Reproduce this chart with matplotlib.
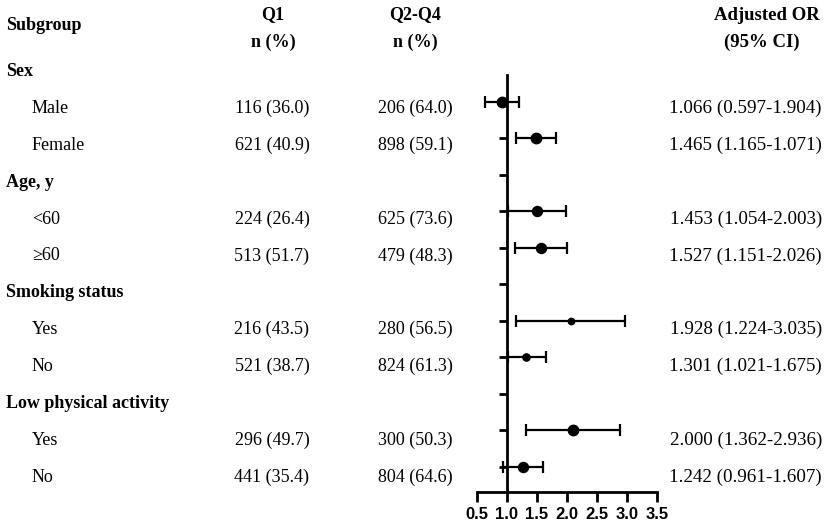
import matplotlib
matplotlib.use('Agg')
import matplotlib.pyplot as plt
import numpy as np

# rows of the table, top to bottom
subgroups = ['Sex', 'Male', 'Female', 'Age, y', '<60', '\u226560',
             'Smoking status', 'Yes', 'No', 'Low physical activity', 'Yes', 'No']
is_header = [True, False, False, True, False, False, True, False, False, True, False, False]
q1_text = ['', '116 (36.0)', '621 (40.9)', '', '224 (26.4)', '513 (51.7)',
           '', '216 (43.5)', '521 (38.7)', '', '296 (49.7)', '441 (35.4)']
q24_text = ['', '206 (64.0)', '898 (59.1)', '', '625 (73.6)', '479 (48.3)',
            '', '280 (56.5)', '824 (61.3)', '', '300 (50.3)', '804 (64.6)']
or_text = ['', '1.066 (0.597-1.904)', '1.465 (1.165-1.071)', '', '1.453 (1.054-2.003)',
           '1.527 (1.151-2.026)', '', '1.928 (1.224-3.035)', '1.301 (1.021-1.675)',
           '', '2.000 (1.362-2.936)', '1.242 (0.961-1.607)']

# values as drawn in the plot
or_point = [np.nan, 0.92, 1.49, np.nan, 1.51, 1.58, np.nan, 2.07, 1.33, np.nan, 2.10, 1.28]
ci_low = [np.nan, 0.64, 1.155, np.nan, 1.03, 1.14, np.nan, 1.155, 1.02, np.nan, 1.32, 0.94]
ci_high = [np.nan, 1.21, 1.83, np.nan, 1.99, 2.01, np.nan, 2.98, 1.66, np.nan, 2.89, 1.60]

# marker size per row (style only)
marker_sizes = [0, 7.5, 7.5, 0, 7.2, 7.2, 0, 4.6, 5.2, 0, 7.5, 7.2]

W, H = 829, 529
fig = plt.figure(figsize=(W / 100, H / 100), dpi=100)
serif = ['Liberation Serif', 'DejaVu Serif']

# forest plot axes
ax = fig.add_axes([476.7 / W, 1 - 491.7 / H, 180 / W, (491.7 - 75) / H])
ax.set_xlim(0.5, 3.5)
ax.set_ylim(11.676, 0.269)
for i in range(len(subgroups)):
    if is_header[i]:
        continue
    ax.errorbar(or_point[i], i, xerr=[[or_point[i] - ci_low[i]], [ci_high[i] - or_point[i]]],
                fmt='o', color='black', markersize=marker_sizes[i], elinewidth=1.6,
                capsize=4, capthick=1.6)
ax.spines['top'].set_visible(False)
ax.spines['right'].set_visible(False)
ax.spines['left'].set_position(('data', 1.0))
ax.spines['left'].set_linewidth(2.0)
ax.spines['bottom'].set_linewidth(2.0)
ax.set_yticks(range(1, len(subgroups)))
ax.set_yticklabels([])
ax.tick_params(axis='y', direction='out', length=6, width=2.0)
ax.set_xticks(np.arange(0.5, 3.51, 0.5))
ax.set_xticklabels([f'{v:.1f}' for v in np.arange(0.5, 3.51, 0.5)],
                   fontfamily='Liberation Sans', fontweight='bold', fontsize=12)
ax.tick_params(axis='x', direction='out', length=7, width=2.0, pad=4)
ax.patch.set_alpha(0)

# table text
def fy(px):
    return 1 - px / H

fs = 13
fig.text(6 / W, fy(26), 'Subgroup', fontsize=fs, fontweight='bold', family=serif, va='center')
fig.text(273 / W, fy(15), 'Q1', fontsize=fs, fontweight='bold', family=serif, va='center', ha='center')
fig.text(273 / W, fy(42), 'n (%)', fontsize=fs, fontweight='bold', family=serif, va='center', ha='center')
fig.text(415 / W, fy(15), 'Q2-Q4', fontsize=fs, fontweight='bold', family=serif, va='center', ha='center')
fig.text(415 / W, fy(42), 'n (%)', fontsize=fs, fontweight='bold', family=serif, va='center', ha='center')
fig.text(767 / W, fy(15), 'Adjusted OR', fontsize=13.5, fontweight='bold', family=serif, va='center', ha='center')
fig.text(762 / W, fy(42), '(95% CI)', fontsize=13.5, fontweight='bold', family=serif, va='center', ha='center')

for i, name in enumerate(subgroups):
    base = 70 + i * 36.9 + 6
    if is_header[i]:
        fig.text(6 / W, fy(base), name, fontsize=fs, fontweight='bold', family=serif, va='baseline')
        continue
    fig.text(32 / W, fy(base), name, fontsize=fs, family=serif, va='baseline')
    fig.text(272 / W, fy(base), q1_text[i], fontsize=fs, family=serif, va='baseline', ha='center')
    fig.text(415 / W, fy(base), q24_text[i], fontsize=fs, family=serif, va='baseline', ha='center')
    fig.text(822 / W, fy(base), or_text[i], fontsize=13.7, family=serif, va='baseline', ha='right')

fig.savefig('out.png', dpi=100, facecolor='white')
